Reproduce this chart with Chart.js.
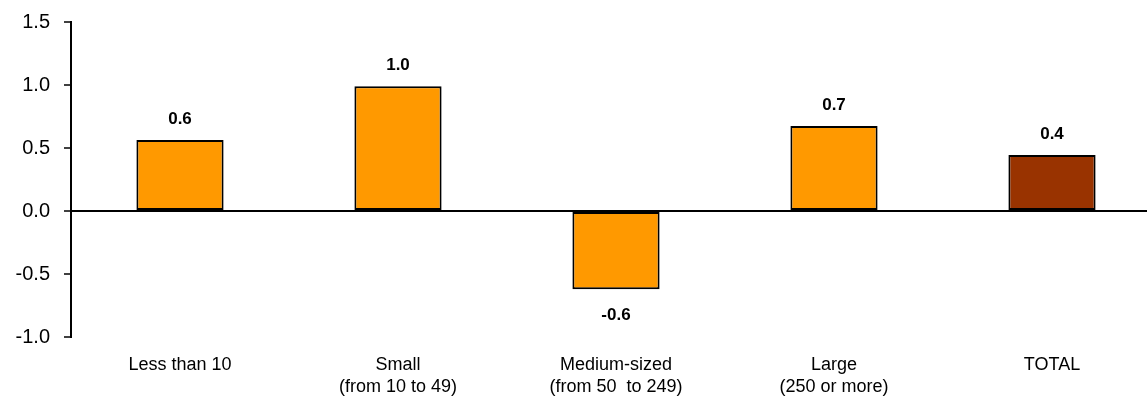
<!DOCTYPE html>
<html><head><meta charset="utf-8">
<script src="https://cdn.jsdelivr.net/npm/chart.js@4/dist/chart.umd.min.js"></script>
<style>html,body{margin:0;padding:0;overflow:hidden;background:#fff;width:1147px;height:401px}canvas{display:block}</style>
</head><body>
<canvas id="c" width="1161" height="401"></canvas>
<script>
const categories = [["Less than 10"], ["Small", "(from 10 to 49)"], ["Medium-sized", "(from 50  to 249)"], ["Large", "(250 or more)"], ["TOTAL"]];
const values = [0.563, 0.99, -0.622, 0.675, 0.444];
const valueLabels = ["0.6", "1.0", "-0.6", "0.7", "0.4"];
const barColors = ["#FF9900", "#FF9900", "#FF9900", "#FF9900", "#993300"];
const yTicks = [-1.0, -0.5, 0.0, 0.5, 1.0, 1.5];

const FONT = "'Liberation Sans', Arial, sans-serif";
const labelPlugin = {
  id: 'vlabels',
  afterDatasetsDraw(chart) {
    const ctx = chart.ctx;
    const meta = chart.getDatasetMeta(0);
    ctx.save();
    ctx.font = "bold 17px " + FONT;
    ctx.fillStyle = "#000";
    ctx.textAlign = "center";
    ctx.textBaseline = "middle";
    meta.data.forEach((bar, i) => {
      const v = values[i];
      const y = v >= 0 ? bar.y - 21 : bar.y + 26;
      ctx.fillText(valueLabels[i], bar.x, y);
    });
    ctx.restore();
  }
};

new Chart(document.getElementById('c'), {
  type: 'bar',
  data: {
    labels: categories,
    datasets: [{
      data: values,
      backgroundColor: barColors,
      borderColor: '#000',
      borderWidth: 2,
      borderSkipped: false,
      barPercentage: 0.4,
      categoryPercentage: 1.0
    }]
  },
  options: {
    responsive: false,
    animation: false,
    layout: { padding: { top: 22, left: 0, right: 0, bottom: 0 } },
    plugins: { legend: { display: false }, tooltip: { enabled: false } },
    scales: {
      x: {
        grid: { display: false, drawTicks: false },
        border: { display: false },
        ticks: { color: '#000', font: { family: FONT, size: 18, lineHeight: 1.17 }, padding: 18, maxRotation: 0, autoSkip: false },
        afterFit(s) { s.height = 64; s.paddingLeft = 0; s.paddingRight = 0; }
      },
      y: {
        min: -1.0, max: 1.5,
        afterBuildTicks(s) { s.ticks = yTicks.map(v => ({ value: v })); },
        grid: {
          color: c => (c.tick && c.tick.value === 0 ? '#000' : 'rgba(0,0,0,0)'),
          lineWidth: 2,
          tickColor: '#000',
          tickLength: 7,
          tickWidth: 1.5
        },
        border: { display: true, color: '#000', width: 2 },
        ticks: { color: '#000', font: { family: FONT, size: 20 }, padding: 14, callback: v => Number(v).toFixed(1) },
        afterFit(s) { s.width = 71; s.paddingTop = 0; s.paddingBottom = 0; }
      }
    }
  },
  plugins: [labelPlugin]
});
</script>
</body></html>
